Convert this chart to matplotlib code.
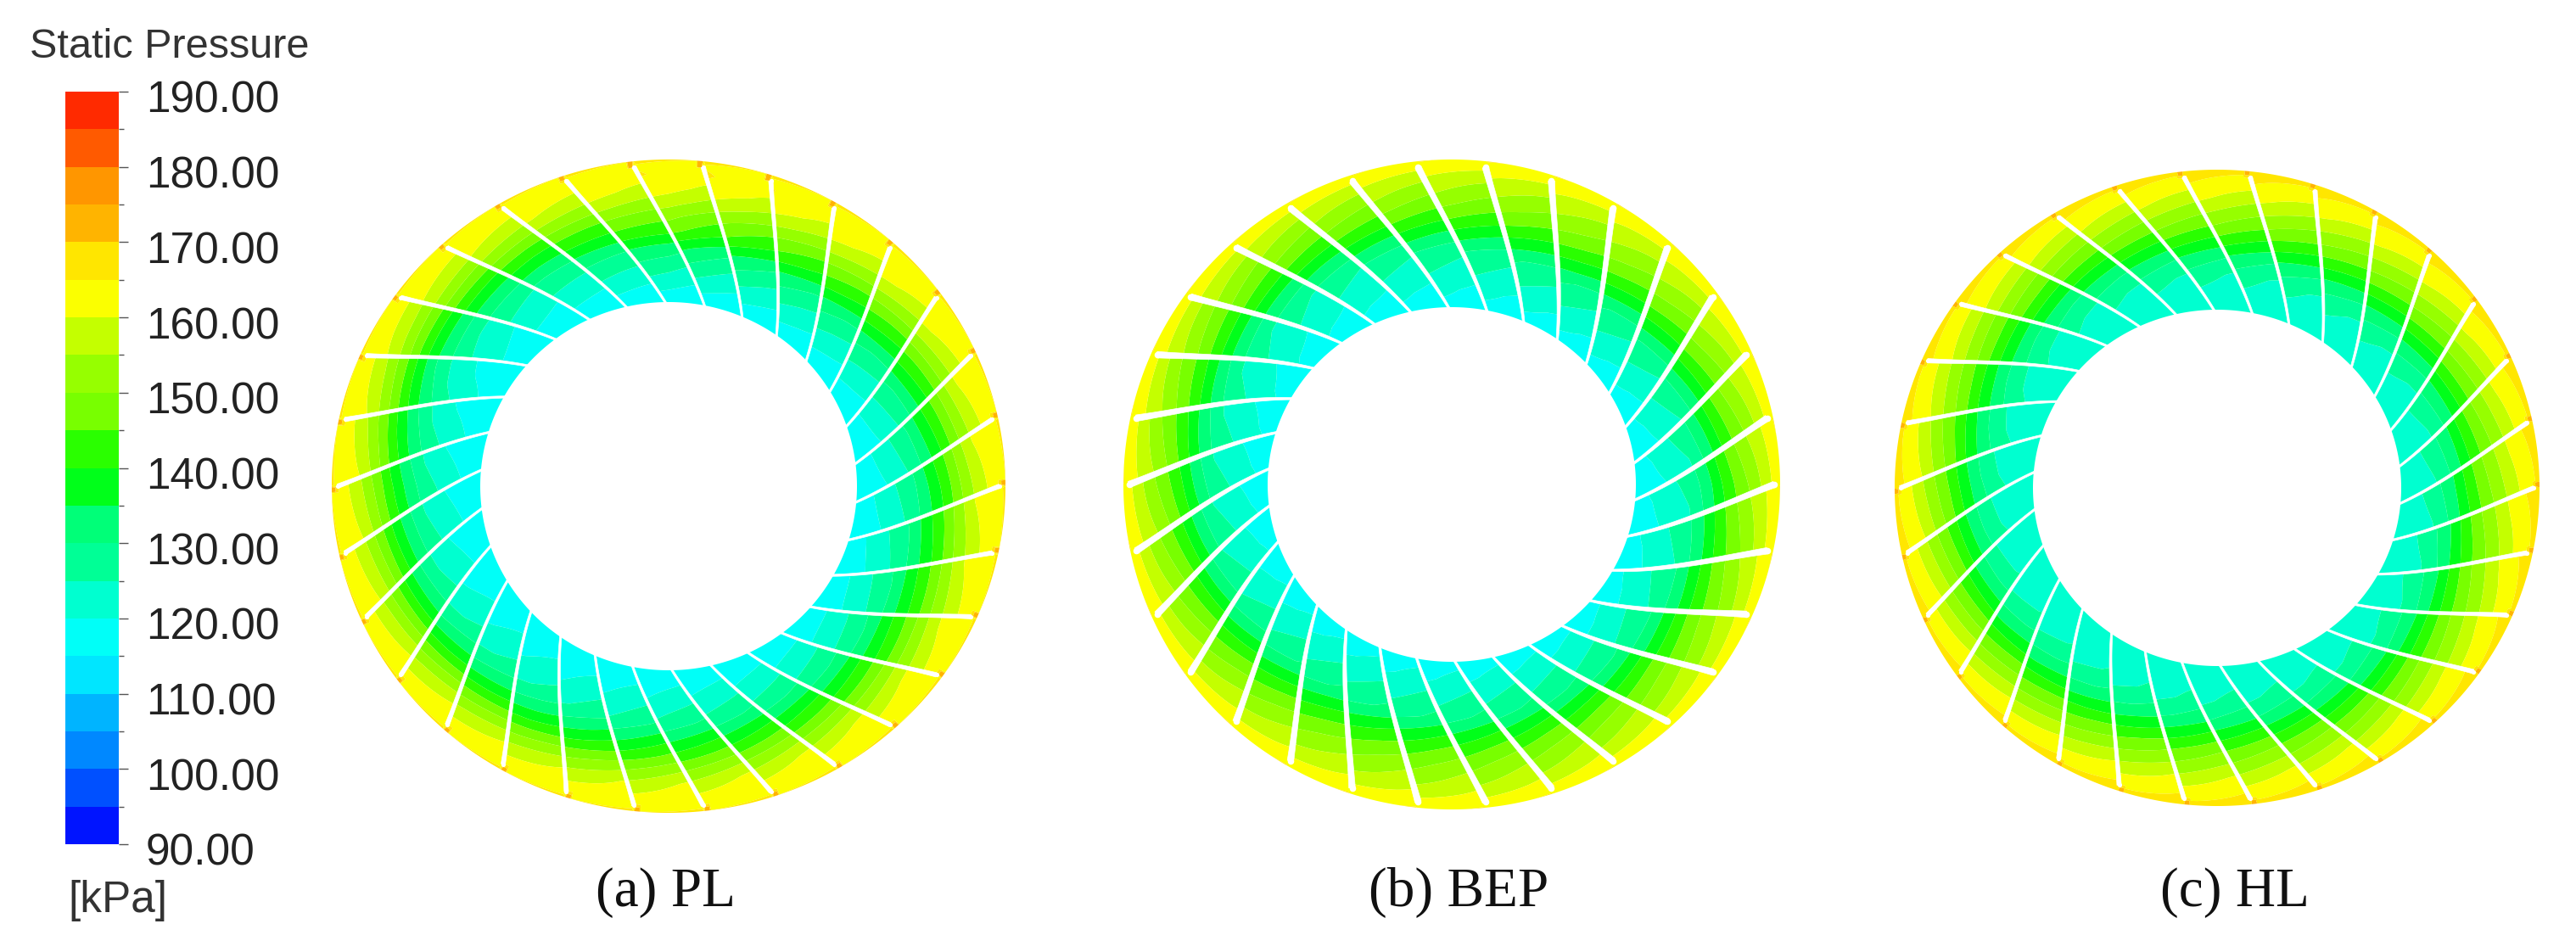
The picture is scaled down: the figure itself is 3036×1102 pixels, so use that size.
import numpy as np
import matplotlib
matplotlib.use('Agg')
import matplotlib.pyplot as plt
from matplotlib.colors import ListedColormap, BoundaryNorm
from matplotlib.transforms import ScaledTranslation

W, H = 3036, 1102

# legend bands, bottom to top, 5 kPa each
levels = np.arange(90, 195, 5)
band_colors = ['#0014ff', '#0050ff', '#0088ff', '#00b4ff', '#00e6ff',
               '#00fff8', '#00ffd0', '#00ff96', '#00ff78', '#00ff1a',
               '#2aff00', '#78ff00', '#96ff00', '#c4ff00', '#fbff00',
               '#ffe600', '#ffb400', '#ff9600', '#ff5a00', '#ff2a00']
tick_values = [90, 100, 110, 120, 130, 140, 150, 160, 170, 180, 190]

captions = ['(a) PL', '(b) BEP', '(c) HL']
caption_x = [785, 1719, 2634]

# ring geometry, in pixels
center_x = [788, 1711, 2613]
center_y = [573, 571, 575]
outer_rx = [397, 387, 380]
outer_ry = [385, 383, 375]
inner_rx = [222, 217, 217]
inner_ry = [217, 209, 210]

# pressure against radial position (0 = hub edge, 1 = rim)
radial_s = [0.0, 0.12, 0.25, 0.38, 0.5, 0.6, 0.7, 0.8, 0.9, 0.97, 1.0]
pressure_a = [116, 119, 123, 128, 136, 143, 151, 158, 162.5, 163.5, 165.5]
pressure_b = [118, 120, 124, 128, 136, 143, 149, 154, 159, 163, 164.8]
pressure_c = [121, 122, 125, 131, 139, 146, 152, 158, 163, 165.5, 168]
radial_p = [pressure_a, pressure_b, pressure_c]

# how much each azimuth sits above the radial profile, strongest mid-span
azimuth_deg = [0, 30, 60, 90, 120, 150, 180, 210, 240, 270, 300, 330]
offset_a = [0, 2, 5, 8, 0, -5, -2, -4, -3, 1, 2, 2]
offset_b = [-3, 0, 2, 0, -2, -3, -2, -1, 2, 2, 2, 0]
offset_c = [3, 1, 1, 2, 0, -1, -1, -3, -2, 1, 1, 2]
azimuth_p = [offset_a, offset_b, offset_c]
span_s = [0.0, 0.2, 0.5, 0.8, 1.0]
span_weight = [0.0, 0.4, 1.0, 0.4, 0.0]

# change across one blade passage
passage_frac = [0.0, 0.5, 1.0]
passage_dp = [-2.5, 0.0, 2.5]
passage_weight = [0.2, 0.7, 1.0, 1.0, 0.2]

# blade shape: turning from the tip against radial position
n_blades = 30
blade_s = [0.0, 0.2, 0.45, 0.65, 0.85, 0.96]
blade_turn = [-17.0, -12.5, -7.0, -4.0, -1.5, 0.0]
blade_halfw_a = [1.2, 1.5, 1.8, 2.0, 2.3, 2.6]
blade_halfw_b = [1.3, 2.0, 2.6, 3.0, 3.4, 3.8]
blade_halfw_c = [1.2, 1.5, 1.8, 2.0, 2.3, 2.6]
blade_halfw = [blade_halfw_a, blade_halfw_b, blade_halfw_c]

# orange spots just past the blade tips (b has none)
tip_spot = [7, 0, 5]

plt.rcParams['font.family'] = ['Liberation Sans', 'DejaVu Sans']
cmap = ListedColormap(band_colors)
norm = BoundaryNorm(levels, cmap.N)

fig = plt.figure(figsize=(W / 100, H / 100), dpi=100)
ax = fig.add_axes([0, 0, 1, 1])
ax.set_xlim(0, W)
ax.set_ylim(H, 0)
ax.axis('off')

s_grid = np.linspace(0, 1, 160)
t_grid = np.linspace(0, 360, 1441)
S, T = np.meshgrid(s_grid, t_grid)
pitch = 360 / n_blades

# smooth camber line through the read-off points
turn_fit = np.polyfit(blade_s, blade_turn, 3)

for i in range(3):
    P = np.interp(S, radial_s, radial_p[i])
    P = P + np.interp(T, azimuth_deg, azimuth_p[i], period=360) * np.interp(S, span_s, span_weight)
    # blades lean, so the passage has to follow them
    lean = np.polyval(turn_fit, np.minimum(S, blade_s[-1])) - np.polyval(turn_fit, blade_s[-1])
    frac = ((T - lean) % pitch) / pitch
    P = P + np.interp(frac, passage_frac, passage_dp) * np.interp(S, span_s, passage_weight)
    if tip_spot[i]:
        spot = (frac > 0.02) & (frac < 0.1) & (S > 0.95)
        P = P + tip_spot[i] * spot

    rx = inner_rx[i] + S * (outer_rx[i] - inner_rx[i])
    ry = inner_ry[i] + S * (outer_ry[i] - inner_ry[i])
    X = center_x[i] + rx * np.cos(np.radians(T))
    Y = center_y[i] - ry * np.sin(np.radians(T))
    ax.contourf(X, Y, P, levels=levels, cmap=cmap, norm=norm, antialiased=True)

    # white blades as thin filled shapes with a round tip
    ss = np.linspace(blade_s[0] - 0.01, blade_s[-1], 60)
    hw = np.interp(ss, blade_s, blade_halfw[i])
    turn = np.polyval(turn_fit, ss) - np.polyval(turn_fit, blade_s[-1])
    for k in range(n_blades):
        th = np.radians(180 - k * pitch + turn)
        bx = center_x[i] + (inner_rx[i] + ss * (outer_rx[i] - inner_rx[i])) * np.cos(th)
        by = center_y[i] - (inner_ry[i] + ss * (outer_ry[i] - inner_ry[i])) * np.sin(th)
        dx, dy = np.gradient(bx), np.gradient(by)
        ln = np.hypot(dx, dy)
        nx, ny = -dy / ln, dx / ln
        ax.fill(np.r_[bx + hw * nx, (bx - hw * nx)[::-1]],
                np.r_[by + hw * ny, (by - hw * ny)[::-1]],
                color='white', lw=0.5, zorder=3)
        ax.plot(bx[-1], by[-1], 'o', color='white', ms=hw[-1] * 1.44, mew=0, zorder=3)

    ax.text(caption_x[i], 1068, captions[i], family=['Liberation Serif'], fontsize=47,
            color='#111111', ha='center', va='baseline')

# legend
cax = fig.add_axes([77 / W, 1 - 995 / H, 63 / W, 887 / H])
cax.pcolormesh([0, 1], levels, np.arange(20).reshape(-1, 1), cmap=cmap, shading='flat')
cax.set_xticks([])
cax.set_ylim(90, 190)
cax.yaxis.tick_right()
cax.set_yticks(tick_values)
cax.set_yticklabels(['%.2f' % v for v in tick_values], fontsize=37, color='#222222')
cax.set_yticks(levels, minor=True)
cax.tick_params(axis='y', which='major', length=8, width=1, color='#555555', pad=15)
cax.tick_params(axis='y', which='minor', length=4, width=1, color='#555555')
for sp in cax.spines.values():
    sp.set_visible(False)
shift = ScaledTranslation(0, -6 / 100, fig.dpi_scale_trans)
for lab in cax.get_yticklabels():
    lab.set_transform(lab.get_transform() + shift)

ax.text(35, 55, 'Static Pressure', fontsize=35, color='#333333', ha='left', va='center')
ax.text(80, 1062, '[kPa]', fontsize=37, color='#333333', ha='left', va='center')

fig.savefig('out.png', dpi=100)
